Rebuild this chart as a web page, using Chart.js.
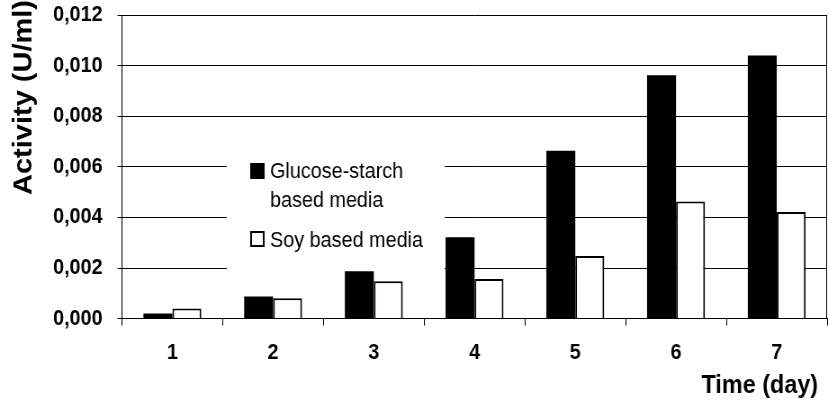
<!DOCTYPE html>
<html>
<head>
<meta charset="utf-8">
<script src="https://cdn.jsdelivr.net/npm/chart.js@4.4.1/dist/chart.umd.min.js"></script>
<style>
  html, body { margin: 0; padding: 0; overflow: hidden; background: #fff; }
  #wrap { width: 921px; height: 400px; transform: scaleX(0.9); transform-origin: 0 0; }
</style>
</head>
<body>
<div id="wrap"><canvas id="c" width="921" height="400"></canvas></div>
<script>
// ---- data ----
const days = ['1', '2', '3', '4', '5', '6', '7'];
const glucoseStarch = [0.0002, 0.00087, 0.00187, 0.00322, 0.00663, 0.00962, 0.0104];
const soy = [0.0004, 0.0008, 0.00148, 0.00157, 0.00247, 0.00463, 0.00421];
const yTicks = [0, 0.002, 0.004, 0.006, 0.008, 0.010, 0.012];
const seriesNames = [['Glucose-starch', 'based media'], ['Soy based media']];
const yTitle = 'Activity (U/ml)';
const xTitle = 'Time (day)';

const FONT = "'Liberation Sans', Arial, Helvetica, sans-serif";
Chart.defaults.font.family = FONT;
Chart.defaults.color = '#000';

const overlay = {
  id: 'overlay',
  beforeDatasetsDraw(chart) {
    const ctx = chart.ctx;
    ctx.save();
    ctx.fillStyle = '#fff';
    ctx.fillRect(252, 125, 242, 145);
    ctx.restore();
  },
  afterDraw(chart) {
    const ctx = chart.ctx;
    const a = chart.chartArea;
    ctx.save();
    // right border of plot area
    ctx.strokeStyle = '#000';
    ctx.lineWidth = 1;
    ctx.beginPath();
    ctx.moveTo(Math.round(a.right) - 0.5, a.top);
    ctx.lineTo(Math.round(a.right) - 0.5, a.bottom);
    ctx.stroke();

    // legend
    const ds = chart.data.datasets;
    ctx.font = '22px ' + FONT;
    ctx.textBaseline = 'alphabetic';
    ctx.textAlign = 'left';
    ctx.fillStyle = ds[0].backgroundColor;
    ctx.fillRect(278, 163, 16, 16);
    ctx.fillStyle = '#000';
    ctx.fillText(seriesNames[0][0], 300, 178);
    ctx.fillText(seriesNames[0][1], 300, 207);
    ctx.fillStyle = ds[1].backgroundColor;
    ctx.fillRect(278, 231, 16, 16);
    ctx.strokeStyle = ds[1].borderColor;
    ctx.lineWidth = 2;
    ctx.strokeRect(279, 232, 14, 14);
    ctx.fillStyle = '#000';
    ctx.fillText(seriesNames[1][0], 300, 247);

    // axis titles
    ctx.font = 'bold 26px ' + FONT;
    ctx.textAlign = 'right';
    ctx.fillText(xTitle, 909, 393);

    ctx.translate(35, 97.5);
    ctx.rotate(-Math.PI / 2);
    ctx.font = 'bold 29px ' + FONT;
    ctx.textAlign = 'center';
    ctx.fillText(yTitle, 0, 0);
    ctx.restore();
  }
};

new Chart(document.getElementById('c'), {
  type: 'bar',
  data: {
    labels: days,
    datasets: [
      { label: seriesNames[0].join(' '), data: glucoseStarch, backgroundColor: '#000', borderWidth: 0,
        categoryPercentage: 0.575, barPercentage: 1.0 },
      { label: seriesNames[1].join(' '), data: soy, backgroundColor: '#fff', borderColor: '#000', borderWidth: 2,
        categoryPercentage: 0.575, barPercentage: 1.0 }
    ]
  },
  options: {
    responsive: false,
    animation: false,
    devicePixelRatio: 1,
    layout: { padding: { left: 42.5, right: 2, top: 15, bottom: 20 } },
    plugins: { legend: { display: false }, tooltip: { enabled: false } },
    scales: {
      x: {
        grid: { display: true, drawOnChartArea: false, drawTicks: true, tickLength: 7, color: '#000', offset: true },
        border: { display: true, color: '#000', width: 1 },
        ticks: { font: { size: 22, weight: 'bold' }, padding: 14, color: '#000' }
      },
      y: {
        min: 0, max: 0.012,
        afterBuildTicks(scale) { scale.ticks = yTicks.map(v => ({ value: v })); },
        afterFit(scale) { scale.paddingTop = 0; scale.paddingBottom = 0; },
        grid: { color: '#000', lineWidth: 1, tickLength: 5, drawTicks: true },
        border: { display: true, color: '#000', width: 1 },
        ticks: {
          font: { size: 22, weight: 'bold' }, padding: 16.5, color: '#000',
          callback: v => Number(v).toFixed(3).replace('.', ',')
        }
      }
    }
  },
  plugins: [overlay]
});
</script>
</body>
</html>
